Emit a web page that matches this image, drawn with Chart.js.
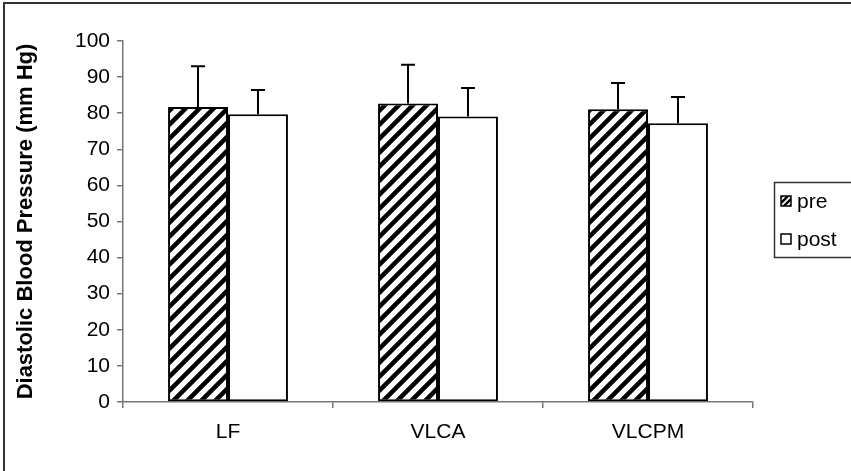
<!DOCTYPE html>
<html>
<head>
<meta charset="utf-8">
<script src="https://cdn.jsdelivr.net/npm/chart.js@4/dist/chart.umd.min.js"></script>
<style>
  html, body { margin: 0; padding: 0; background: #fff; }
  #wrap { position: relative; width: 851px; height: 471px; }
</style>
</head>
<body>
<div id="wrap"><canvas id="bar" width="851" height="471"></canvas></div>
<script>
'use strict';

// 데이터
const categories = ['LF', 'VLCA', 'VLCPM'];
const preMeans = [81.7, 82.7, 81.1];
const postMeans = [79.7, 79.1, 77.2];
const preSD = [11.3, 10.7, 7.3];
const postSD = [6.7, 7.9, 7.3];
const seriesNames = ['pre', 'post'];

const FONT = '"Liberation Sans", Arial, sans-serif';

// 빗금 패턴
function makeHatch(size, lw) {
    const c = document.createElement('canvas');
    c.width = size; c.height = size;
    const g = c.getContext('2d');
    g.fillStyle = '#fff';
    g.fillRect(0, 0, size, size);
    g.strokeStyle = '#000';
    g.lineWidth = lw;
    g.beginPath();
    g.moveTo(-size, size * 2); g.lineTo(size * 2, -size);
    g.moveTo(-size, size); g.lineTo(size, -size);
    g.moveTo(0, size * 2); g.lineTo(size * 2, 0);
    g.stroke();
    return g.createPattern(c, 'repeat');
}
const hatch = makeHatch(14, 4.5);
const smallHatch = makeHatch(6, 2.5);

// 바깥 테두리 (위, 왼쪽)
const framePlugin = {
    id: 'frame',
    afterDraw(chart) {
        const c = chart.ctx;
        c.save();
        c.strokeStyle = '#333';
        c.lineWidth = 2;
        c.beginPath();
        c.moveTo(4, 471); c.lineTo(4, 3); c.lineTo(851, 3);
        c.stroke();
        c.restore();
    }
};

// 오차 막대 (위쪽만)
const errorPlugin = {
    id: 'errbars',
    afterDatasetsDraw(chart) {
        const c = chart.ctx;
        const y = chart.scales.y;
        const sds = [preSD, postSD];
        c.save();
        c.strokeStyle = '#000';
        c.lineWidth = 2;
        chart.data.datasets.forEach((ds, di) => {
            chart.getDatasetMeta(di).data.forEach((el, i) => {
                const top = y.getPixelForValue(ds.data[i] + sds[di][i]);
                c.beginPath();
                c.moveTo(el.x, el.y);
                c.lineTo(el.x, top);
                c.moveTo(el.x - 7, top);
                c.lineTo(el.x + 7, top);
                c.stroke();
            });
        });
        c.restore();
    }
};

// 범례 (박스 포함)
const legendPlugin = {
    id: 'boxLegend',
    afterDraw(chart) {
        const c = chart.ctx;
        c.save();
        c.strokeStyle = '#333';
        c.lineWidth = 1.5;
        c.strokeRect(774.5, 182.5, 90, 75);
        c.font = '21px ' + FONT;
        c.textBaseline = 'middle';
        const fills = [smallHatch, '#fff'];
        [201, 239].forEach((yy, i) => {
            c.fillStyle = fills[i];
            c.fillRect(781, yy - 5, 10, 10);
            c.strokeStyle = '#000';
            c.lineWidth = 1.5;
            c.strokeRect(781, yy - 5, 10, 10);
            c.fillStyle = '#000';
            c.fillText(seriesNames[i], 797, yy + 1);
        });
        c.restore();
    }
};

const data = {
    labels: categories,
    datasets: [
        {
            label: seriesNames[0],
            data: preMeans,
            backgroundColor: hatch,
            borderColor: '#000',
            borderWidth: 2,
            borderSkipped: false
        },
        {
            label: seriesNames[1],
            data: postMeans,
            backgroundColor: '#fff',
            borderColor: '#000',
            borderWidth: 2,
            borderSkipped: false
        }
    ]
};

const config = {
    type: 'bar',
    data,
    options: {
        responsive: false,
        animation: false,
        events: [],
        layout: { padding: { left: 0, right: 98, top: 41, bottom: 0 } },
        datasets: { bar: { barPercentage: 1, categoryPercentage: 0.571 } },
        plugins: { legend: { display: false }, tooltip: { enabled: false } },
        scales: {
            x: {
                grid: { drawOnChartArea: false, offset: true, tickLength: 6, color: '#777', lineWidth: 1.5 },
                border: { color: '#777', width: 1.5 },
                ticks: { color: '#000', font: { family: FONT, size: 21 }, padding: 12 },
                afterFit(s) { s.height = 69; }
            },
            y: {
                min: 0, max: 100,
                ticks: { stepSize: 10, color: '#000', font: { family: FONT, size: 21 }, padding: 7 },
                grid: { drawOnChartArea: false, tickLength: 6, color: '#777', lineWidth: 1.5 },
                border: { color: '#777', width: 1.5 },
                title: {
                    display: true,
                    text: 'Diastolic Blood Pressure (mm Hg)',
                    color: '#000',
                    font: { family: FONT, size: 22, weight: 'bold' },
                    padding: { top: 13, bottom: 0 }
                },
                afterFit(s) { s.width = 123; }
            }
        }
    },
    plugins: [framePlugin, errorPlugin, legendPlugin]
};

const barChart = new Chart(document.getElementById('bar'), config);
</script>
</body>
</html>
